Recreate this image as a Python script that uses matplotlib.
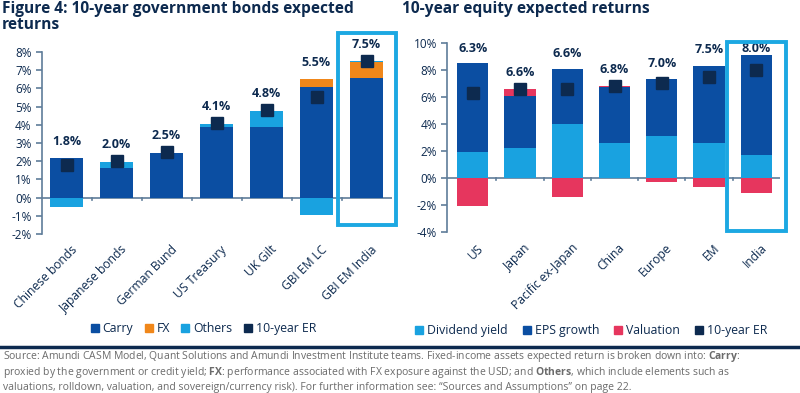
import matplotlib.pyplot as plt
from matplotlib.patches import Rectangle
from matplotlib.lines import Line2D
import numpy as np

plt.rcParams['font.family'] = ['Open Sans', 'DejaVu Sans']
plt.rcParams['mathtext.fontset'] = 'custom'
plt.rcParams['mathtext.rm'] = 'Open Sans'
plt.rcParams['mathtext.bf'] = 'Open Sans:bold'

# datos del grafico de bonos
bond_names = ['Chinese bonds', 'Japanese bonds', 'German Bund', 'US Treasury',
              'UK Gilt', 'GBI EM LC', 'GBI EM India']
bond_carry = [2.2, 1.64, 2.45, 3.9, 3.9, 6.1, 6.55]
bond_fx = [0.0, 0.0, 0.0, 0.0, 0.0, 0.4, 0.9]
bond_others = [-0.5, 0.32, 0.0, 0.15, 0.86, -0.95, 0.05]
bond_er = [1.8, 2.0, 2.5, 4.1, 4.8, 5.5, 7.5]

# datos del grafico de acciones
eq_names = ['US', 'Japan', 'Pacific ex-Japan', 'China', 'Europe', 'EM', 'India']
eq_div = [1.9, 2.2, 4.0, 2.6, 3.1, 2.6, 1.7]
eq_eps = [6.6, 3.9, 4.05, 4.15, 4.2, 5.7, 7.4]
eq_val = [-2.1, 0.5, -1.4, 0.1, -0.3, -0.7, -1.1]
eq_er = [6.3, 6.6, 6.6, 6.8, 7.0, 7.5, 8.0]

NAVY = '#0d2a4f'
DARK = '#0b4ea2'
LIGHT = '#19a2e0'
ORANGE = '#f0871a'
RED = '#e6365e'
AXC = '#5f7d9a'
BOX = '#1ca8e2'
W = 0.66


def stack(ax, x, parts):
    # apila positivos y negativos por separado
    pos = np.zeros(len(x))
    neg = np.zeros(len(x))
    for vals, col in parts:
        v = np.array(vals, dtype=float)
        base = np.where(v >= 0, pos, neg)
        ax.bar(x, v, W, bottom=base, color=col, zorder=2)
        pos = pos + np.clip(v, 0, None)
        neg = neg + np.clip(v, None, 0)
    return pos


def style(ax, names, ylim, yticks):
    ax.set_ylim(*ylim)
    ax.set_yticks(yticks)
    ax.set_yticklabels([f'{t}%' for t in yticks], color=NAVY, fontsize=8.5)
    for s in ['top', 'right', 'bottom']:
        ax.spines[s].set_visible(False)
    ax.spines['left'].set_color(AXC)
    ax.spines['left'].set_linewidth(1.2)
    ax.tick_params(axis='y', color=AXC, length=4, width=1.2)
    ax.axhline(0, color=AXC, lw=1.2, zorder=1)
    n = len(names)
    ax.set_xticks([])
    for k in range(n - 1):
        ax.plot([k + 0.5, k + 0.5], [0, -0.012 * (ylim[1] - ylim[0])],
                color=AXC, lw=1.2, clip_on=False)
    for k, name in enumerate(names):
        ax.text(k + 0.08, ylim[0] - 0.05 * (ylim[1] - ylim[0]), name,
                rotation=45, ha='right', va='top', rotation_mode='anchor',
                color=NAVY, fontsize=8.7)


fig = plt.figure(figsize=(8, 3.93), dpi=100)

# grafico izquierdo
ax1 = fig.add_axes([0.0525, 0.4046, 0.4375, 0.4631])
x = np.arange(len(bond_names))
tops = stack(ax1, x, [(bond_carry, DARK), (bond_fx, ORANGE), (bond_others, LIGHT)])
ax1.plot(x, bond_er, 's', color=NAVY, ms=9, zorder=3)
for k in range(len(x)):
    ax1.text(x[k], max(tops[k], bond_er[k]) + 0.55, f'{bond_er[k]:.1f}%',
             ha='center', va='bottom', color=NAVY, fontsize=9, fontweight='bold')
ax1.set_xlim(-0.49, 6.51)
style(ax1, bond_names, (-2, 8), list(range(-2, 9)))
ax1.add_patch(Rectangle((6 - 0.58, -1.5), 1.16, 10.55, fill=False, ec=BOX,
                        lw=2.8, clip_on=False, zorder=4))

# grafico derecho
ax2 = fig.add_axes([0.559, 0.4097, 0.416, 0.4809])
x = np.arange(len(eq_names))
tops = stack(ax2, x, [(eq_div, LIGHT), (eq_eps, DARK), (eq_val, RED)])
ax2.plot(x, eq_er, 's', color=NAVY, ms=9, zorder=3)
for k in range(len(x)):
    y = min(max(tops[k], eq_er[k]) + 0.7, 9.1)
    ax2.text(x[k], y, f'{eq_er[k]:.1f}%', ha='center', va='bottom',
             color=NAVY, fontsize=9, fontweight='bold')
ax2.set_xlim(-0.54, 6.5)
style(ax2, eq_names, (-4, 10), list(range(-4, 11, 2)))
ax2.add_patch(Rectangle((6 - 0.63, -3.9), 1.26, 14.0, fill=False, ec=BOX,
                        lw=2.8, clip_on=False, zorder=4))

# titulos
fig.text(0.002, 0.998, 'Figure 4: 10-year government bonds expected\nreturns',
         ha='left', va='top', color=NAVY, fontsize=11.2, fontweight='bold',
         linespacing=1.05)
fig.text(0.503, 0.998, '10-year equity expected returns', ha='left', va='top',
         color=NAVY, fontsize=11.2, fontweight='bold')

# leyendas
def sq(c):
    return Line2D([], [], marker='s', ls='', color=c, ms=6)

fig.legend([sq(DARK), sq(ORANGE), sq(LIGHT), sq(NAVY)],
           ['Carry', 'FX', 'Others', '10-year ER'], loc='center left',
           bbox_to_anchor=(0.113, 0.163), ncol=4, frameon=False, fontsize=8.8,
           handlelength=0.7, handletextpad=0.3, columnspacing=0.9,
           labelcolor=NAVY, borderaxespad=0, borderpad=0)
fig.legend([sq(LIGHT), sq(DARK), sq(RED), sq(NAVY)],
           ['Dividend yield', 'EPS growth', 'Valuation', '10-year ER'],
           loc='center left', bbox_to_anchor=(0.519, 0.158), ncol=4,
           frameon=False, fontsize=8.8, handlelength=0.7, handletextpad=0.3,
           columnspacing=1.2, labelcolor=NAVY, borderaxespad=0, borderpad=0)

# linea del pie
fig.add_artist(Line2D([0, 1], [1 - 347 / 393] * 2, color=NAVY, lw=2.5))

# texto de la fuente (un solo bloque de tres lineas)
source_lines = [
    'Source: Amundi CASM Model, Quant Solutions and Amundi Investment Institute teams. '
    'Fixed-income assets expected return is broken down into: $\\mathbf{Carry}$:',
    'proxied by the government or credit yield; $\\mathbf{FX}$: performance associated '
    'with FX exposure against the USD; and $\\mathbf{Others}$, which include elements such as',
    'valuations, rolldown, valuation, and sovereign/currency risk). '
    'For further information see: \u201cSources and Assumptions\u201d on page 22.',
]
fig.text(0.004, 1 - 349 / 393, '\n'.join(source_lines), ha='left', va='top',
         fontsize=7.45, color='#6b6b6b', linespacing=1.15)

fig.savefig('out.png', dpi=100)
